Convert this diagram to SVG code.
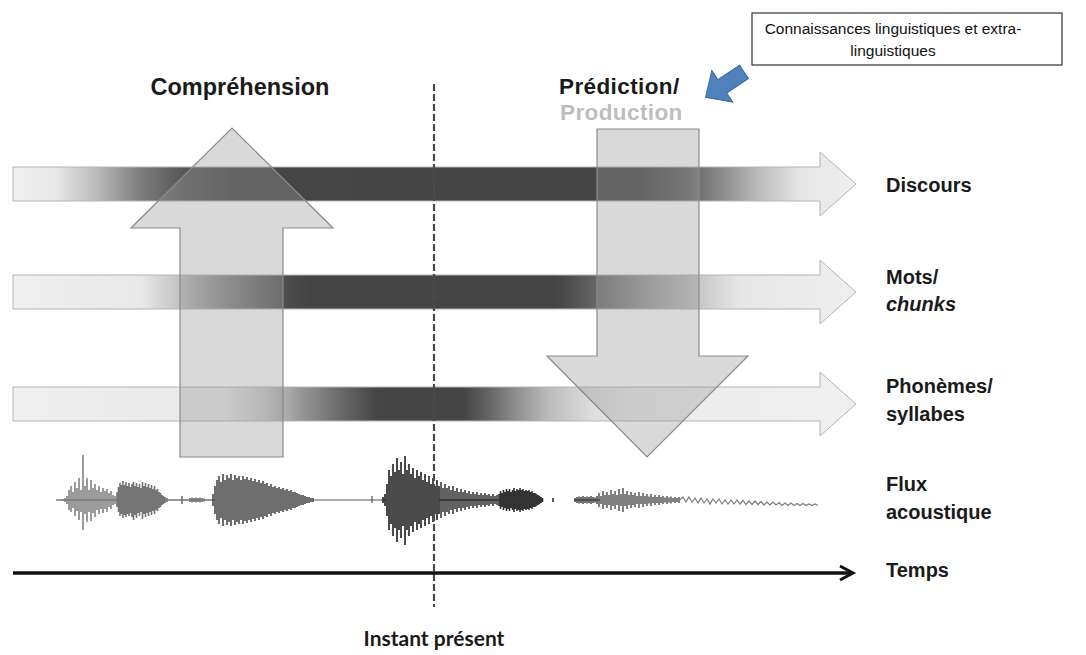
<svg xmlns="http://www.w3.org/2000/svg" width="1086" height="655" viewBox="0 0 1086 655">
<defs>
<style>
.lbl{font-family:"Liberation Sans",Arial,sans-serif;font-weight:bold;font-size:20px;fill:#1a1a1a}
.head{font-family:"Liberation Sans",Arial,sans-serif;font-weight:bold;font-size:23.5px;fill:#1a1a1a}
.head2{font-family:"Liberation Sans",Arial,sans-serif;font-weight:bold;font-size:22.5px;letter-spacing:0.4px;fill:#1a1a1a}
.band{stroke:#b4b4b4;stroke-width:1}
.big{fill:#9c9c9c;fill-opacity:0.38;stroke:#8a8a8a;stroke-width:1.2}
.wv{fill:none;stroke-linecap:butt}
.box{font-family:"Liberation Sans",Arial,sans-serif;font-size:15.5px;fill:#111}
</style>
<linearGradient id="g1" gradientUnits="userSpaceOnUse" x1="13" y1="0" x2="856" y2="0">
<stop offset="0" stop-color="#efefef"/>
<stop offset="0.05" stop-color="#e8e8e8"/>
<stop offset="0.097" stop-color="#bdbdbd"/>
<stop offset="0.15" stop-color="#7e7e7e"/>
<stop offset="0.204" stop-color="#555"/>
<stop offset="0.257" stop-color="#454545"/>
<stop offset="0.744" stop-color="#444"/>
<stop offset="0.79" stop-color="#5a5a5a"/>
<stop offset="0.839" stop-color="#8a8a8a"/>
<stop offset="0.886" stop-color="#bdbdbd"/>
<stop offset="0.934" stop-color="#e6e6e6"/>
<stop offset="1" stop-color="#efefef"/>
</linearGradient>
<linearGradient id="g2" gradientUnits="userSpaceOnUse" x1="13" y1="0" x2="856" y2="0">
<stop offset="0" stop-color="#efefef"/>
<stop offset="0.151" stop-color="#e8e8e8"/>
<stop offset="0.192" stop-color="#c8c8c8"/>
<stop offset="0.234" stop-color="#999"/>
<stop offset="0.281" stop-color="#707070"/>
<stop offset="0.329" stop-color="#4a4a4a"/>
<stop offset="0.352" stop-color="#444"/>
<stop offset="0.643" stop-color="#444"/>
<stop offset="0.678" stop-color="#5a5a5a"/>
<stop offset="0.72" stop-color="#808080"/>
<stop offset="0.767" stop-color="#a5a5a5"/>
<stop offset="0.815" stop-color="#c8c8c8"/>
<stop offset="0.862" stop-color="#e6e6e6"/>
<stop offset="1" stop-color="#efefef"/>
</linearGradient>
<linearGradient id="g3" gradientUnits="userSpaceOnUse" x1="13" y1="0" x2="856" y2="0">
<stop offset="0" stop-color="#efefef"/>
<stop offset="0.251" stop-color="#e8e8e8"/>
<stop offset="0.299" stop-color="#c8c8c8"/>
<stop offset="0.34" stop-color="#999"/>
<stop offset="0.388" stop-color="#6a6a6a"/>
<stop offset="0.429" stop-color="#474747"/>
<stop offset="0.447" stop-color="#444"/>
<stop offset="0.533" stop-color="#444"/>
<stop offset="0.566" stop-color="#666"/>
<stop offset="0.601" stop-color="#949494"/>
<stop offset="0.637" stop-color="#bdbdbd"/>
<stop offset="0.685" stop-color="#dcdcdc"/>
<stop offset="0.744" stop-color="#ececec"/>
<stop offset="1" stop-color="#efefef"/>
</linearGradient>
</defs>
<rect width="1086" height="655" fill="#ffffff"/>

<g id="band-discours">
<path class="band" fill="url(#g1)" d="M13,167 H820 V152 L856,184 L820,216 V201 H13 Z"/>
</g>
<g id="band-mots">
<path class="band" fill="url(#g2)" d="M13,275 H820 V260 L856,292 L820,324 V309 H13 Z"/>
</g>
<g id="band-phonemes">
<path class="band" fill="url(#g3)" d="M13,387 H820 V372 L856,404 L820,436 V421 H13 Z"/>
</g>

<g id="waveform">
<path class="wv" stroke="#7a7a7a" stroke-width="1.5" d="M56 500H116 M63 499V501 M65 498V502 M67 496V504 M69 490V510 M71 486V512 M73 492V508 M75 482V516 M77 488V511 M79 478V520 M81 490V512 M83 455V530 M85 486V514 M87 478V522 M89 490V512 M91 480V521 M93 488V513 M95 484V517 M97 490V510 M99 486V514 M101 492V509 M103 488V513 M105 491V509 M107 489V512 M109 493V507 M111 491V509 M113 495V505 M115 496V504"/>
<path class="wv" stroke="#747474" stroke-width="1.6" d="M116 500H215 M117 492V507 M118.5 487V512 M120 483V516 M121.5 485V514 M123 481V518 M124.5 485V515 M126 482V517 M127.5 486V514 M129 483V516 M130.5 487V513 M132 484V517 M133.5 482V520 M135 486V515 M136.5 483V518 M138 487V513 M139.5 484V516 M141 488V512 M142.5 482V519 M144 486V514 M145.5 483V517 M147 487V513 M148.5 484V516 M150 488V512 M151.5 485V515 M153 489V511 M154.5 486V514 M156 490V510 M157.5 489V511 M159 492V508 M160.5 493V507 M162 495V505 M163.5 496V504 M165 497V503 M167 498V502 M182 496V504 M190 498V502 M192 497.5V502.5 M194 498V502 M196 497.5V502.5 M198 498V502 M200 497.5V502.5 M202 498V502 M204 498.5V501.5"/>
<path class="wv" stroke="#4a4a4a" stroke-width="1.6" d="M213 494V506 M215 486V514 M217 480V520 M219 476V524 M221 482V518 M223 474V526 M225 480V520 M227 475V525 M229 478V522 M231 474V526 M233 480V520 M235 475V525 M237 478V522 M239 476V524 M241 480V520 M243 476V524 M245 479V521 M247 477V523 M249 480V520 M251 478V522 M253 481V519 M255 479V521 M257 482V518 M259 480V520 M261 483V517 M263 481V519 M265 484V516 M267 483V517 M269 486V514 M271 484V516 M273 487V513 M275 486V514 M277 488V512 M279 487V513 M281 489V511 M283 488V512 M285 490V510 M287 489V511 M289 491V509 M291 490V510 M293 492V508 M295 492V508 M297 493V507 M299 494V506 M301 495V505 M303 495V505 M305 496V504 M307 497V503 M309 497V503 M311 498V502 M313 498V502"/>
<path class="wv" stroke="#555" stroke-width="1.2" d="M313 500H386 M372 496V503"/>
<path class="wv" stroke="#1e1e1e" stroke-width="1.6" d="M383 497V503 M385 494V506 M387 484V516 M389 470V530 M391 476V524 M393 464V536 M395 472V528 M397 458V542 M399 470V530 M401 462V538 M403 474V526 M405 456V545 M407 470V530 M409 464V536 M411 474V526 M413 468V532 M415 478V522 M417 470V530 M419 476V524 M421 472V528 M423 480V520 M425 474V526 M427 482V518 M429 476V524 M431 484V516 M433 478V522 M435 486V514 M437 480V520 M439 486V514"/>
<path class="wv" stroke="#2e2e2e" stroke-width="1.5" d="M439 500H500 M441 482V518 M443 488V512 M445 484V516 M447 488V512 M449 486V514 M451 490V510 M453 486V514 M455 491V509 M457 488V512 M459 492V508 M461 489V511 M463 492V508 M465 490V510 M467 493V507 M469 491V509 M471 494V506 M473 492V508 M475 494V506 M477 492V508 M479 495V505 M481 493V507 M483 495V505 M485 493V507 M487 495V505 M489 494V506 M491 496V504 M493 494V506 M495 496V504 M497 495V505"/>
<path class="wv" stroke="#333" stroke-width="1.6" d="M499 494V506 M500.5 491V509 M502 493V507 M503.5 490V510 M505 492V508 M506.5 489V511 M508 491V509 M509.5 489V511 M511 492V508 M512.5 490V510 M514 488V512 M515.5 491V509 M517 489V511 M518.5 490V510 M520 488V512 M521.5 490V510 M523 489V511 M524.5 491V509 M526 490V510 M527.5 491V509 M529 490V510 M530.5 492V508 M532 491V509 M533.5 493V507 M535 493V507 M536.5 494V506 M538 495V505 M539.5 496V504 M541 497V503 M542.5 498V502 M553 498V502"/>
<path class="wv" stroke="#444" stroke-width="1.5" d="M574 500H600 M575 498V502 M577 497V503 M579 496.5V503.5 M581 497V503 M583 496V504 M585 497V503 M587 496.5V503.5 M589 497V503 M591 496V504 M593 497V503 M595 497.5V502.5 M597 496V504"/>
<path class="wv" stroke="#4a4a4a" stroke-width="1.4" d="M599 493V507 M601 496V504 M603 491V509 M605 495V505 M607 492V508 M609 495V505 M611 490V510 M613 494V506 M615 491V509 M617 495V505 M619 489V511 M621 494V506 M623 488V512 M625 494V506 M627 491V509 M629 495V505 M631 492V508 M633 495V505 M635 493V507 M637 496V504 M639 492V508 M641 496V504 M643 493V507 M645 496V504 M647 494V506 M649 496.5V503.5 M651 494V506 M653 497V503 M655 495V505 M657 497V503 M659 495V505 M661 497V503 M663 496V504 M665 497.5V502.5 M667 496V504 M669 497.5V502.5 M671 496.5V503.5 M673 498V502 M675 497V503 M677 498V502 M679 497V503"/>
<path class="wv" stroke="#7c7c7c" stroke-width="1.2" d="M680 500 l3 -3 l3 5 l3 -5 l3 5 l3 -4 l3 5 l3 -5 l3 5 l3 -4 l3 5 l3 -5 l3 4 l3 -4 l3 5 l3 -4 l3 4 l3 -4 l3 4 l3 -4 l3 4 l3 -3.5 l3 4 l3 -3.5 l3 3.5 l3 -3.5 l3 3.5 l3 -3 l3 3.5 l3 -3 l3 3 l3 -3 l3 3 l3 -2.5 l3 3 l3 -2.5 l3 2.5 l3 -2.5 l3 2.5 l3 -2 l3 2 l3 -2 l3 2 l3 -1.5 l3 1.5 l3 -1.5 l3 1.5"/>
</g>

<g id="arrow-comprehension">
<polygon class="big" points="180,457 180,228 131,228 232,128 333,228 283,228 283,457"/>
</g>
<g id="arrow-prediction">
<polygon class="big" points="597,129 699,129 699,356 748,356 647,457 547,356 597,356"/>
</g>

<g id="connectors">
<line x1="434" y1="84" x2="434" y2="607" stroke="#4a4a4a" stroke-width="2.2" stroke-dasharray="7 3"/>
<line x1="13" y1="573" x2="851" y2="573" stroke="#111" stroke-width="3.5"/>
<polyline points="840,566 853,573 840,580" fill="none" stroke="#111" stroke-width="3"/>
<polygon points="0,-8 26,-8 26,-19 46,0 26,19 26,8 0,8" transform="translate(744,72) rotate(146.7)" fill="#4f81bd" stroke="#3b679c" stroke-width="1"/>
</g>

<g id="box-connaissances">
<rect x="752" y="13" width="310" height="52" fill="#ffffff" stroke="#333" stroke-width="1.2"/>
<text class="box" x="893" y="34" text-anchor="middle">Connaissances linguistiques et extra-</text>
<text class="box" x="893" y="56" text-anchor="middle">linguistiques</text>
</g>

<g id="title-comprehension"><text class="head" x="240" y="95" text-anchor="middle">Compréhension</text></g>
<g id="title-prediction">
<text class="head2" x="559" y="94">Prédiction/</text>
<text class="head2" x="560" y="120" style="fill:#bdbdbd">Production</text>
</g>

<g id="label-discours"><text class="lbl" x="886" y="192">Discours</text></g>
<g id="label-mots"><text class="lbl" x="886" y="284">Mots/</text><text class="lbl" x="886" y="311" font-style="italic">chunks</text></g>
<g id="label-phonemes"><text class="lbl" x="886" y="393">Phonèmes/</text><text class="lbl" x="886" y="421">syllabes</text></g>
<g id="label-flux"><text class="lbl" x="886" y="491">Flux</text><text class="lbl" x="886" y="519">acoustique</text></g>
<g id="label-temps"><text class="lbl" x="886" y="577">Temps</text></g>
<g id="label-instant"><text x="434" y="646" text-anchor="middle" font-family="Lato,'Open Sans',sans-serif" font-weight="bold" font-size="21" fill="#1a1a1a">Instant présent</text></g>
</svg>
